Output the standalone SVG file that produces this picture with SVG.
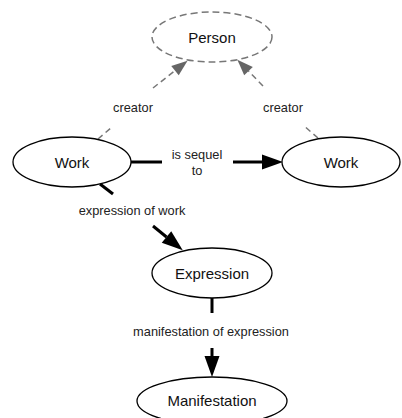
<svg xmlns="http://www.w3.org/2000/svg" width="402" height="418" viewBox="0 0 402 418">
<style>
.node ellipse{fill:#fff;stroke:#000;stroke-width:1.3}
.node.dashed ellipse{stroke:#777;stroke-dasharray:7 4;stroke-width:1.5}
.node text{font-family:"Liberation Sans",Arial,sans-serif;font-size:15px;text-anchor:middle;fill:#111}
.lbl{font-family:"Liberation Sans",Arial,sans-serif;font-size:12.8px;text-anchor:middle;fill:#222}
.solid{stroke:#000;stroke-width:3;fill:none}
.dash{stroke:#777;stroke-width:1.5;stroke-dasharray:6 4;fill:none}
</style>
<defs>
<marker id="ah" markerUnits="userSpaceOnUse" markerWidth="22" markerHeight="16" refX="0" refY="7.5" orient="auto" overflow="visible">
<path d="M0,0 L21,7.5 L0,15 z" fill="#000"/>
</marker>
<marker id="ahg" markerUnits="userSpaceOnUse" markerWidth="18" markerHeight="14" refX="0" refY="6" orient="auto" overflow="visible">
<path d="M0,0 L16,6 L0,12 z" fill="#666"/>
</marker>
</defs>
<rect width="402" height="418" fill="#fff"/>
<g id="connectors">
<line class="solid" x1="131" y1="162" x2="162" y2="162"/>
<line class="solid" x1="233" y1="162" x2="262" y2="162" marker-end="url(#ah)"/>
<line class="solid" x1="100" y1="184" x2="113" y2="194"/>
<line class="solid" x1="153" y1="226" x2="166.5" y2="237" marker-end="url(#ah)"/>
<line class="solid" x1="212" y1="298" x2="212" y2="313"/>
<line class="solid" x1="212" y1="348" x2="212" y2="356" marker-end="url(#ah)"/>
<line class="dash" x1="98" y1="139" x2="112" y2="127"/>
<line class="dash" x1="153" y1="88" x2="175" y2="70.6" marker-end="url(#ahg)"/>
<line class="dash" x1="318" y1="138" x2="303" y2="125"/>
<line class="dash" x1="263" y1="86" x2="248.5" y2="71.1" marker-end="url(#ahg)"/>
<text class="lbl" x="133" y="112">creator</text>
<text class="lbl" x="283" y="112">creator</text>
<text class="lbl" x="197" y="159">is sequel</text>
<text class="lbl" x="197" y="175">to</text>
<text class="lbl" x="132" y="215">expression of work</text>
<text class="lbl" x="211" y="336">manifestation of expression</text>
</g>
<g id="person" class="node dashed">
<ellipse cx="212" cy="37" rx="60" ry="25"/>
<text x="212" y="43">Person</text>
</g>
<g id="work1" class="node">
<ellipse cx="72" cy="162" rx="59" ry="25"/>
<text x="72" y="167.5">Work</text>
</g>
<g id="work2" class="node">
<ellipse cx="341" cy="162" rx="59" ry="25"/>
<text x="341" y="167.5">Work</text>
</g>
<g id="expression" class="node">
<ellipse cx="212" cy="273" rx="60" ry="25"/>
<text x="212" y="278.5">Expression</text>
</g>
<g id="manifestation" class="node">
<ellipse cx="212" cy="401" rx="75" ry="24"/>
<text x="212" y="405.5">Manifestation</text>
</g>
</svg>
